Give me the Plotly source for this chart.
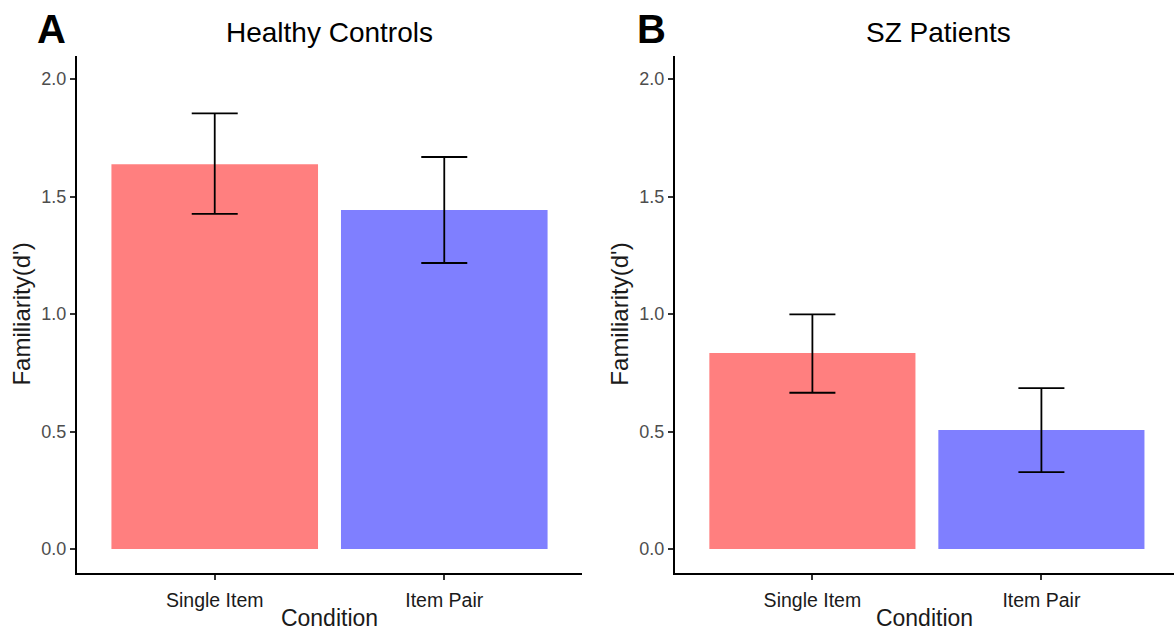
import plotly.graph_objects as go

conditions = ["Single Item", "Item Pair"]
colors = ["#FF7F7F", "#7F7FFF"]

hc_mean = [1.637, 1.443]
hc_upper = [1.854, 1.668]
hc_lower = [1.426, 1.217]

sz_mean = [0.834, 0.506]
sz_upper = [0.998, 0.685]
sz_lower = [0.665, 0.327]

panels = [("Healthy Controls", "A", hc_mean, hc_upper, hc_lower),
          ("SZ Patients", "B", sz_mean, sz_upper, sz_lower)]

W, H = 1174, 631
FONT = "Liberation Sans, Arial, sans-serif"

fig = go.Figure()
xdomains = [[77 / W, 582 / W], [675 / W, 1.0]]
xranges = [[-0.6, 1.6], [-0.6, 1.579]]
ydom = [(H - 572.5) / H, (H - 55.5) / H]

for i, (title, letter, mean, upper, lower) in enumerate(panels):
    sfx = "" if i == 0 else "2"
    plus = [u - m for u, m in zip(upper, mean)]
    minus = [m - l for m, l in zip(mean, lower)]
    fig.add_trace(go.Bar(
        x=conditions, y=mean, width=0.9,
        marker=dict(color=colors, line=dict(width=0)),
        error_y=dict(type="data", array=plus, arrayminus=minus, symmetric=False,
                     color="black", thickness=1.8, width=23),
        xaxis="x" + sfx, yaxis="y" + sfx, showlegend=False))
    axcommon = dict(showline=True, linecolor="black", linewidth=2,
                    ticks="outside", ticklen=5, tickwidth=1.6, tickcolor="#333333",
                    showgrid=False, zeroline=False)
    fig.layout["xaxis" + sfx] = dict(
        domain=xdomains[i], range=xranges[i], anchor="y" + sfx,
        type="category", ticklabelstandoff=4,
        tickfont=dict(family=FONT, size=19.5, color="#1a1a1a"),
        title=dict(text="Condition", font=dict(family=FONT, size=23, color="#1a1a1a"), standoff=3),
        **axcommon)
    fig.layout["yaxis" + sfx] = dict(
        domain=ydom, range=[-0.1, 2.1], anchor="x" + sfx,
        tickvals=[0, 0.5, 1.0, 1.5, 2.0], ticktext=["0.0", "0.5", "1.0", "1.5", "2.0"],
        tickfont=dict(family=FONT, size=18, color="#4D4D4D"),
        title=dict(text="Familiarity(d')", font=dict(family=FONT, size=24, color="#1a1a1a"), standoff=4),
        **axcommon)
    xc = (xdomains[i][0] + xdomains[i][1]) / 2
    fig.add_annotation(text=title, x=xc if i == 0 else 938 / W, y=(H - 32) / H,
                       xref="paper", yref="paper", showarrow=False,
                       font=dict(family=FONT, size=28, color="black"),
                       xanchor="center", yanchor="middle")
    fig.add_annotation(text="<b>" + letter + "</b>", x=(51 if i == 0 else 651) / W, y=(H - 29) / H,
                       xref="paper", yref="paper", showarrow=False,
                       font=dict(family=FONT, size=40, color="black"),
                       xanchor="center", yanchor="middle")

fig.update_layout(width=W, height=H, margin=dict(l=0, r=0, t=0, b=0),
                  paper_bgcolor="white", plot_bgcolor="white", bargap=0.1)
fig.write_html("out.html", config={"displayModeBar": False},
               post_script="document.body.style.margin='0';document.body.style.padding='0';")
